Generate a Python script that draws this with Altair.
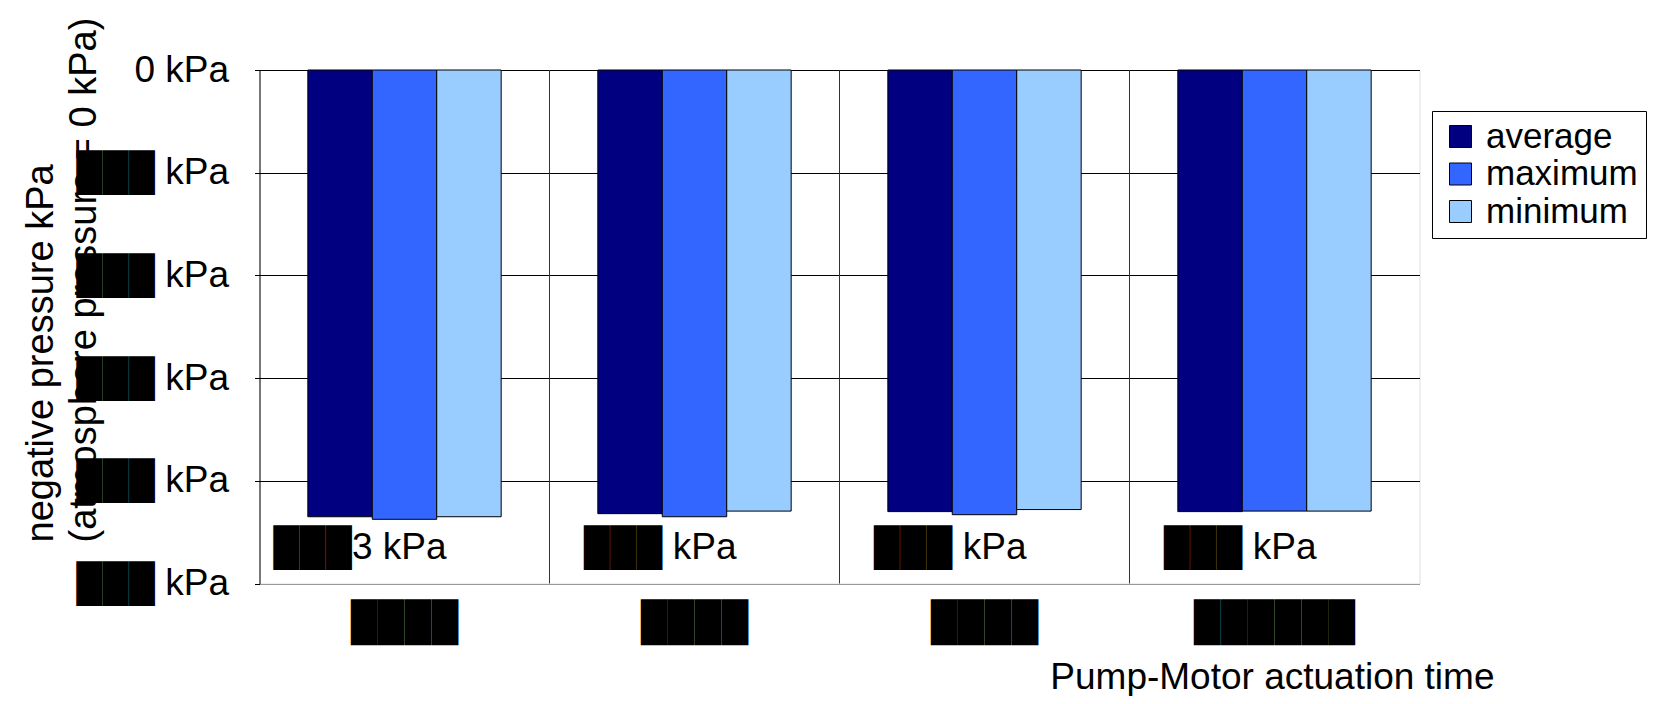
import altair as alt
import pandas as pd

# --- data ---
categories = ["t1", "t2", "t3", "t4"]           # redacted actuation times
x_labels = ["████", "████", "████", "██████"]   # redacted tick labels as shown
series = ["average", "maximum", "minimum"]
average = [-43.5, -43.2, -43.0, -43.0]
maximum = [-43.75, -43.5, -43.3, -42.95]
minimum = [-43.5, -42.95, -42.8, -42.95]
value_labels = ["███3 kPa", "███ kPa", "███ kPa", "███ kPa"]
y_ticks = [0, -10, -20, -30, -40, -50]
colors = ["#000080", "#3366FF", "#99CCFF"]

rows = []
for i, c in enumerate(categories):
    for s, vals in zip(series, [average, maximum, minimum]):
        rows.append({"cat": c, "series": s, "value": vals[i]})
df = pd.DataFrame(rows)
lab_df = pd.DataFrame({"cat": categories, "label": value_labels})
sep_df = pd.DataFrame({"cat": categories[1:]})

FONT = "Liberation Sans"
W, H = 1160, 513.5

label_map = "{" + ",".join(f"'{c}':'{l}'" for c, l in zip(categories, x_labels)) + "}"

x_enc = alt.X(
    "cat:N",
    scale=alt.Scale(domain=categories, paddingInner=0, paddingOuter=0),
    axis=alt.Axis(
        title="Pump-Motor actuation time",
        labelExpr=f"{label_map}[datum.value]",
        labelAngle=0,
        labelAlign="center",
        labelFontSize=38,
        labelFont=FONT,
        labelColor="black",
        labelPadding=39,
        ticks=False,
        domain=False,
        titleFontSize=37,
        titleFont=FONT,
        titleFontWeight="normal",
        titleColor="black",
        titleAlign="right",
        titleBaseline="alphabetic",
        titleX=1234.5,
        titleY=105,
    ),
)

y_enc = alt.Y(
    "value:Q",
    scale=alt.Scale(domain=[-50, 0], nice=False),
    axis=alt.Axis(
        values=y_ticks,
        title=["negative pressure kPa", "(atmosphere pressure = 0 kPa)"],
        titleFontSize=38,
        titleFont=FONT,
        titleFontWeight="normal",
        titleColor="black",
        titleAngle=-90,
        titleAlign="left",
        titleBaseline="top",
        titleLineHeight=43,
        titleX=-237,
        titleY=472,
        labelExpr="datum.value == 0 ? '0 kPa' : '███ kPa'",
        labelFontSize=37,
        labelFont=FONT,
        labelColor="black",
        labelPadding=26,
        tickSize=5,
        tickColor="black",
        domainColor="black",
        grid=True,
        gridColor={"condition": {"test": "datum.value == -50", "value": "#999999"}, "value": "black"},
        gridWidth=1,
        gridOpacity=1,
    ),
)

bars = alt.Chart(df).mark_bar(stroke="black", strokeWidth=1).encode(
    x=x_enc,
    xOffset=alt.XOffset(
        "series:N",
        scale=alt.Scale(domain=series, paddingInner=0, paddingOuter=0.75),
    ),
    y=y_enc,
    color=alt.Color(
        "series:N",
        scale=alt.Scale(domain=series, range=colors),
        legend=alt.Legend(
            title=None,
            orient="none",
            legendX=1172.5,
            legendY=41,
            symbolType="square",
            symbolSize=484,
            symbolStrokeColor="black",
            symbolStrokeWidth=1,
            symbolOpacity=1,
            labelFontSize=35,
            labelFont=FONT,
            labelColor="black",
            labelOffset=8,
            rowPadding=1.5,
            padding=8,
            symbolOffset=3,
            strokeColor="black",
            fillColor="white",
        ),
    ),
)

seps = alt.Chart(sep_df).mark_rule(color="#333333", strokeWidth=1).encode(
    x=alt.X("cat:N", bandPosition=0),
    y=alt.datum(0),
    y2=alt.datum(-50),
)

labels = alt.Chart(lab_df).mark_text(
    align="right", baseline="middle", dx=42, fontSize=37, font=FONT, color="black"
).encode(
    x=alt.X("cat:N"),
    y=alt.datum(-46.5),
    text="label:N",
)

chart = (
    alt.layer(seps, bars, labels)
    .properties(
        width=W,
        height=H,
        autosize=alt.AutoSizeParams(type="none"),
        padding={"left": 251.5, "top": 62, "right": 233.5, "bottom": 112.5},
    )
    .configure_view(stroke="#999999", strokeWidth=2)
    .configure(font=FONT)
)

chart.save("out.html", embed_options={"renderer": "svg", "actions": False})
